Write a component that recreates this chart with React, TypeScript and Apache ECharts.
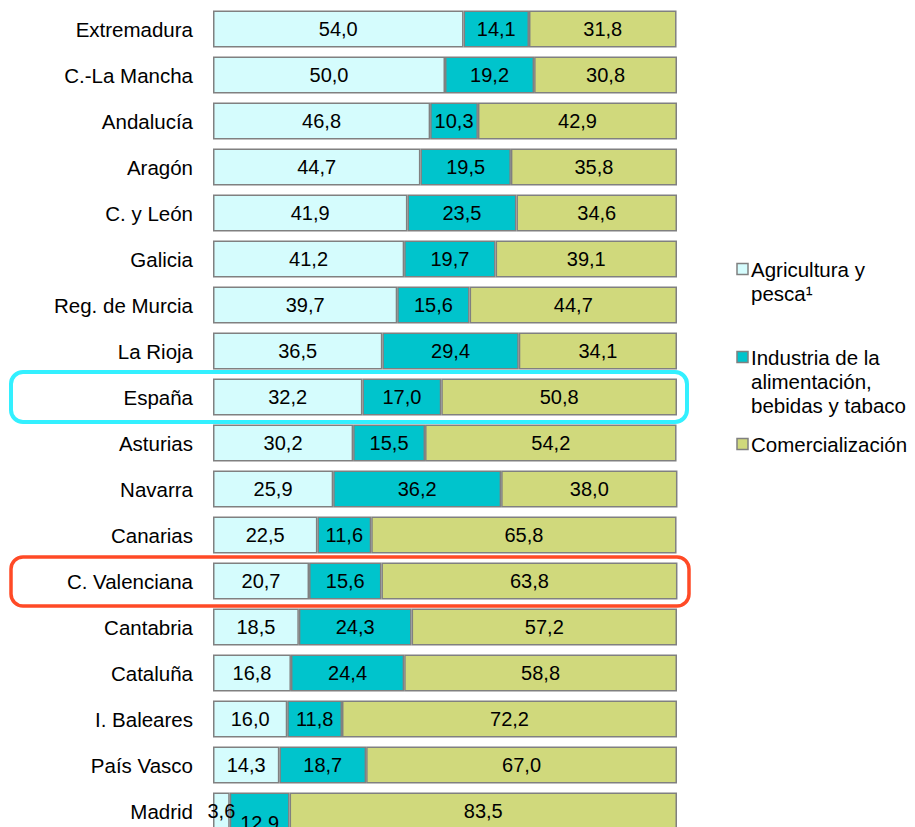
import React, { useEffect, useRef } from "react";
import * as echarts from "echarts";

const regions = [
  "Extremadura", "C.-La Mancha", "Andalucía", "Aragón", "C. y León", "Galicia",
  "Reg. de Murcia", "La Rioja", "España", "Asturias", "Navarra", "Canarias",
  "C. Valenciana", "Cantabria", "Cataluña", "I. Baleares", "País Vasco", "Madrid",
];
const agricultura = [54.0, 50.0, 46.8, 44.7, 41.9, 41.2, 39.7, 36.5, 32.2, 30.2, 25.9, 22.5, 20.7, 18.5, 16.8, 16.0, 14.3, 3.6];
const industria = [14.1, 19.2, 10.3, 19.5, 23.5, 19.7, 15.6, 29.4, 17.0, 15.5, 36.2, 11.6, 15.6, 24.3, 24.4, 11.8, 18.7, 12.9];
const comercializacion = [31.8, 30.8, 42.9, 35.8, 34.6, 39.1, 44.7, 34.1, 50.8, 54.2, 38.0, 65.8, 63.8, 57.2, 58.8, 72.2, 67.0, 83.5];
const seriesNames = ["Agricultura y\npesca¹", "Industria de la\nalimentación,\nbebidas y tabaco", "Comercialización"];
const colors = ["#d5fcfd", "#00c4cc", "#d0d97c"];

const FONT = "'Liberation Sans', Arial, Helvetica, sans-serif";
const fmt = (v: number) => v.toFixed(1).replace(".", ",");

export default function App() {
  const ref = useRef<HTMLDivElement>(null);
  useEffect(() => {
    if (!ref.current) return;
    const chart = echarts.init(ref.current, null, { renderer: "svg" });
    const seriesData = [agricultura, industria, comercializacion];
    const series = seriesData.map((arr, si) => ({
      name: seriesNames[si],
      type: "bar",
      stack: "total",
      barWidth: "80%",
      data: arr.map((v, i) => {
        const item: any = { value: v };
        if (regions[i] === "Madrid" && si === 1) {
          item.label = { offset: [0, 12] };
        }
        return item;
      }),
      itemStyle: { color: colors[si], borderColor: "#808080", borderWidth: 1.5 },
      label: {
        show: true,
        position: "inside",
        color: "#000",
        fontSize: 20,
        fontFamily: FONT,
        formatter: (p: any) => fmt(p.value),
      },
    }));
    chart.setOption({
      animation: false,
      grid: { left: 213, right: 238, top: 6, bottom: -7, outerBoundsMode: "none", containLabel: false },
      xAxis: { type: "value", min: 0, max: 100, show: false },
      yAxis: {
        type: "category",
        data: regions,
        inverse: true,
        axisLine: { show: false },
        axisTick: { show: false },
        axisLabel: { color: "#000", fontSize: 20.5, fontFamily: FONT, margin: 20 },
      },
      series,
    });

    const yEsp = chart.convertToPixel({ yAxisIndex: 0 }, "España") as number;
    const yVal = chart.convertToPixel({ yAxisIndex: 0 }, "C. Valenciana") as number;
    const legendTops = [269, 357, 444];
    const legendGraphics: any[] = [];
    seriesNames.forEach((n, i) => {
      legendGraphics.push({
        type: "rect",
        shape: { x: 737, y: legendTops[i] - 5.5, width: 11, height: 11 },
        style: { fill: colors[i], stroke: "#808080", lineWidth: 1.5 },
      });
      legendGraphics.push({
        type: "text",
        x: 751,
        y: legendTops[i] - 12,
        style: {
          text: n,
          fill: "#000",
          fontSize: 20.5,
          fontFamily: FONT,
          lineHeight: 24,
          verticalAlign: "top",
          align: "left",
        },
      });
    });
    chart.setOption({
      graphic: [
        {
          type: "rect",
          shape: { x: 11, y: yEsp - 25, width: 676, height: 50, r: 12 },
          style: { fill: "none", stroke: "#33f0ff", lineWidth: 4 },
          z: 10,
        },
        {
          type: "rect",
          shape: { x: 11, y: yVal - 24, width: 678, height: 49, r: 12 },
          style: { fill: "none", stroke: "#ff4a26", lineWidth: 3.5 },
          z: 10,
        },
        ...legendGraphics,
      ],
    });
    return () => chart.dispose();
  }, []);
  return (
    <div
      ref={ref}
      style={{ position: "absolute", left: 0, top: 0, width: 915, height: 827, background: "#fff" }}
    />
  );
}
